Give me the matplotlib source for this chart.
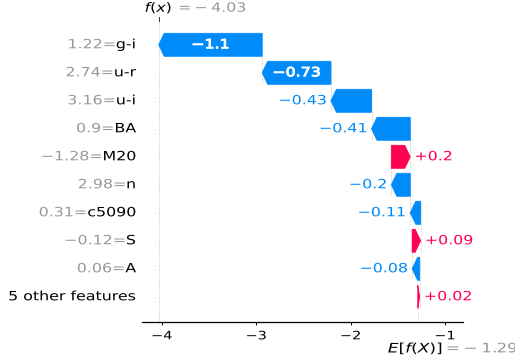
import matplotlib
matplotlib.use("Agg")
import matplotlib.pyplot as plt
from matplotlib.transforms import Affine2D, Bbox
from matplotlib.patches import FancyArrow
from matplotlib.patheffects import AbstractPathEffect
import numpy as np

# ---- data ----
features = ["g-i", "u-r", "u-i", "BA", "M20", "n", "c5090", "S", "A", "5 other features"]
feature_values = ["1.22", "2.74", "3.16", "0.9", "\u22121.28", "2.98", "0.31", "\u22120.12", "0.06", None]
shap_values = [-1.096, -0.728, -0.43, -0.41, 0.2, -0.2, -0.11, 0.09, -0.08, 0.02]
shap_labels = ["\u22121.1", "\u22120.73", "\u22120.43", "\u22120.41", "+0.2", "\u22120.2",
               "\u22120.11", "+0.09", "\u22120.08", "+0.02"]
base_value = -1.288
xticks = [-4, -3, -2, -1]

BLUE = "#008bfb"
RED = "#ff0051"
GRAY = "#999999"
FS = 9.2
SX = 1.24  # horizontal stretch of the reference's text


def _anchor(text, bb):
    ha = text.get_horizontalalignment()
    return bb.x0 if ha == "left" else (bb.x1 if ha == "right" else 0.5 * (bb.x0 + bb.x1))


class HStretch(AbstractPathEffect):
    """Stretch a text horizontally about its alignment point (optionally fatten it)."""

    def __init__(self, text, sx=SX, stroke=0.0):
        super().__init__()
        self.text = text
        self.sx = sx
        self.stroke = stroke

    def draw_path(self, renderer, gc, tpath, affine, rgbFace=None):
        bb = self.text.get_window_extent(renderer)
        x0 = _anchor(self.text, bb)
        aff = affine + Affine2D().translate(-x0, 0).scale(self.sx, 1).translate(x0, 0)
        gc0 = renderer.new_gc()
        gc0.copy_properties(gc)
        if self.stroke > 0 and rgbFace is not None:
            gc0.set_linewidth(self.stroke)
            gc0.set_foreground(rgbFace)
        renderer.draw_path(gc0, tpath, aff, rgbFace)
        gc0.restore()


def stretched(text, sx=SX, stroke=0.0):
    text.set_path_effects([HStretch(text, sx=sx, stroke=stroke)])
    return text


def stretched_bbox(text, sx=SX):
    def f(renderer):
        bb = text.get_window_extent(renderer)
        x0 = _anchor(text, bb)
        return Bbox.from_extents(x0 + (bb.x0 - x0) * sx, bb.y0, x0 + (bb.x1 - x0) * sx, bb.y1)
    return f


W, H, DPI = 515, 357, 100
fig = plt.figure(figsize=(W / DPI, H / DPI), dpi=DPI)
ax = fig.add_axes([141.7 / W, 1 - 321.7 / H, (462.7 - 141.7) / W, (321.7 - 21) / H])

n = len(features)
rows = np.arange(n)[::-1]  # top row has highest y
fx = base_value + sum(shap_values)

ax.set_xlim(-4.212, -0.8125)
ax.set_ylim(-0.89, n - 1 + 0.85)

bbox = ax.get_window_extent()
xlen = ax.get_xlim()[1] - ax.get_xlim()[0]
px2x = xlen / bbox.width
hl = 5.5 * px2x
bar_w = 0.82

for r in rows:
    ax.axhline(r, color="#cccccc", lw=0.5, dashes=(1, 5), zorder=-1)

renderer = fig.canvas.get_renderer()
loc = fx
for i in range(n):
    v = shap_values[i]
    start = loc - v
    y = rows[i]
    color = RED if v >= 0 else BLUE
    dist = abs(v)
    direction = 1 if v >= 0 else -1
    h = min(dist, hl)
    body = max(dist - h, 1e-6)
    ax.add_patch(FancyArrow(start, y, direction * body, 0, width=bar_w, head_width=bar_w,
                            head_length=h, length_includes_head=False, color=color, lw=0.6,
                            zorder=2))

    if i < n - 1:
        ax.plot([start, start], [y - 1 - 0.4, y + 0.4], color="#bbbbbb", lw=0.5,
                dashes=(1, 1), zorder=1)

    t = ax.text(start + v / 2, y, shap_labels[i], ha="center", va="center", color="white",
                fontsize=FS, zorder=3)
    tw = t.get_window_extent(renderer).width * SX
    if tw + 6 > dist / px2x:
        t.remove()
        if v >= 0:
            t = ax.annotate(shap_labels[i], xy=(loc, y), xytext=(3, 0), textcoords="offset points",
                            ha="left", va="center", color=RED, fontsize=FS)
        else:
            t = ax.annotate(shap_labels[i], xy=(loc, y), xytext=(-3, 0), textcoords="offset points",
                            ha="right", va="center", color=BLUE, fontsize=FS)
        stretched(t)
    else:
        stretched(t, stroke=0.7)
    loc = start

ax.axvline(fx, 0, 1, color="#bbbbbb", lw=0.5, dashes=(1, 1), zorder=-1)
ylo, yhi = ax.get_ylim()
ax.axvline(base_value, 0, (rows[-1] + 0.4 - ylo) / (yhi - ylo), color="#bbbbbb", lw=0.5,
           dashes=(1, 1), zorder=-1)

# feature labels: grey value + black name
for i in range(n):
    y = rows[i]
    name = ax.annotate(features[i], xy=(0, y), xycoords=("axes fraction", "data"),
                       xytext=(-4, 0), textcoords="offset points", ha="right", va="center",
                       color="black", fontsize=FS)
    stretched(name)
    if feature_values[i] is not None:
        val = ax.annotate(feature_values[i] + "=", xy=(0, 0.5), xycoords=stretched_bbox(name),
                          ha="right", va="center", color=GRAY, fontsize=FS)
        stretched(val)

for s in ["left", "right", "top"]:
    ax.spines[s].set_visible(False)
ax.spines["bottom"].set_linewidth(0.9)
ax.set_yticks([])
ax.set_xticks(xticks)
ax.tick_params(axis="x", labelsize=8.4, length=2.5, width=0.7, pad=3)
for lbl in ax.get_xticklabels():
    stretched(lbl)


def math_label(value):
    s = f"{value:.2f}"
    if s.startswith("-"):
        s = "-\\:" + s[1:]
    return "$ = " + s + "$"


# top f(x) tick + label
ax.plot([fx, fx], [1, 1 + 4 / bbox.height], transform=ax.get_xaxis_transform(),
        color="#333333", lw=0.7, clip_on=False)
t1 = stretched(ax.annotate("$f(x)$", xy=(fx, 1), xycoords=("data", "axes fraction"),
                           xytext=(0, 4.5), textcoords="offset points", ha="center", va="bottom",
                           color="black", fontsize=FS))
stretched(ax.annotate(math_label(fx), xy=(1, 0), xycoords=stretched_bbox(t1), xytext=(1.5, 0),
                      textcoords="offset points", ha="left", va="bottom", color=GRAY, fontsize=FS))

# bottom E[f(X)] label (drawn a little larger in the reference)
FS_E, SX_E = 9.4, 1.3
t2 = stretched(ax.annotate("$E[f(X)]$", xy=(base_value, 0), xycoords=("data", "axes fraction"),
                           xytext=(-1.5, -13.5), textcoords="offset points", ha="center", va="top",
                           color="black", fontsize=FS_E), sx=SX_E)
stretched(ax.annotate(math_label(base_value), xy=(1, 0), xycoords=stretched_bbox(t2, SX_E),
                      xytext=(-0.8, 0), textcoords="offset points", ha="left", va="bottom",
                      color=GRAY, fontsize=FS_E), sx=SX_E)

fig.savefig("out.png", dpi=DPI)
